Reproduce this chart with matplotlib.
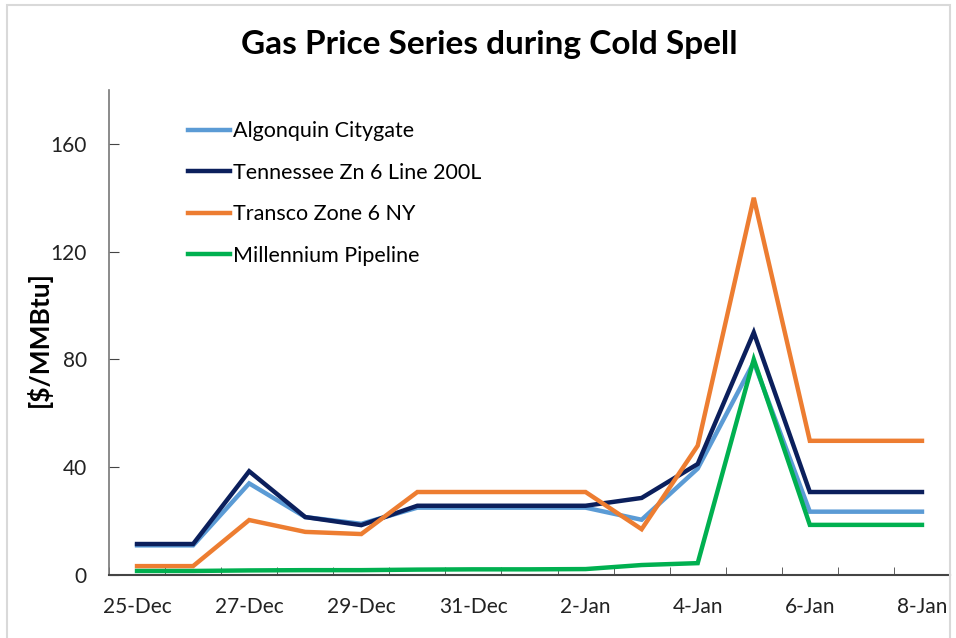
import matplotlib
matplotlib.use('Agg')
import matplotlib.pyplot as plt
from matplotlib.patches import Rectangle

plt.rcParams['font.family'] = ['Lato', 'DejaVu Sans']

# daily categories 25-Dec .. 8-Jan
days = ['25-Dec', '26-Dec', '27-Dec', '28-Dec', '29-Dec', '30-Dec', '31-Dec', '1-Jan',
        '2-Jan', '3-Jan', '4-Jan', '5-Jan', '6-Jan', '7-Jan', '8-Jan']

algonquin = [11, 11, 34, 21.5, 19, 25, 25, 25, 25, 20.5, 39.5, 79, 23.5, 23.5, 23.5]
tennessee = [11.5, 11.5, 38.5, 21.5, 18.5, 25.7, 25.7, 25.7, 25.7, 28.6, 41.2, 90, 30.8, 30.8, 30.8]
transco = [3.3, 3.3, 20.4, 16, 15.2, 30.8, 30.8, 30.8, 30.8, 17, 48, 140, 49.8, 49.8, 49.8]
millennium = [1.5, 1.5, 1.7, 1.8, 1.8, 2.0, 2.1, 2.1, 2.2, 3.7, 4.4, 80, 18.6, 18.6, 18.6]

names = ['Algonquin Citygate', 'Tennessee Zn 6 Line 200L', 'Transco Zone 6 NY', 'Millennium Pipeline']
colors = ['#5B9BD5', '#0B1F5C', '#ED7D31', '#00B050']
series = [algonquin, tennessee, transco, millennium]

fig = plt.figure(figsize=(9.56, 6.38), dpi=100)
ax = fig.add_axes([109 / 956, 63 / 638, 841 / 956, 485 / 638])

x = list(range(len(days)))
for vals, name, col in zip(series, names, colors):
    ax.plot(x, vals, color=col, lw=3.2, label=name, solid_joinstyle='miter')

ax.set_xlim(-0.5, len(days) - 0.5)
ax.set_ylim(0, 180)
ax.set_yticks([0, 40, 80, 120, 160])
ax.set_xticks(x[::2])
ax.set_xticklabels(days[::2])
ax.set_xticks([i - 0.5 for i in range(len(days) + 1)], minor=True)
ax.tick_params(axis='x', which='major', length=0, pad=16, labelsize=15, labelcolor='#222222')
ax.tick_params(axis='x', which='minor', direction='in', length=6, color='#444444')
ax.tick_params(axis='y', direction='in', length=7, pad=16, labelsize=15, labelcolor='#222222',
               color='#444444')

for s in ['top', 'right']:
    ax.spines[s].set_visible(False)
ax.spines['left'].set_color('#777777')
ax.spines['bottom'].set_color('#444444')
ax.spines['left'].set_linewidth(1.2)
ax.spines['bottom'].set_linewidth(1.5)

ax.set_ylabel('[$/MMBtu]', fontsize=19, fontweight='bold')
ax.yaxis.set_label_coords(-0.068, 0.487)
fig.text(0.512, 0.93, 'Gas Price Series during Cold Spell', ha='center', va='center',
         fontsize=24, fontweight='bold')

ax.legend(loc='upper left', bbox_to_anchor=(0.094, 0.936), frameon=False, fontsize=15.5,
          handlelength=1.95, handletextpad=0.15, labelspacing=1.0, borderpad=0,
          borderaxespad=0)

fig.add_artist(Rectangle((7 / 956, -0.01), 943 / 956, 1 - 5 / 638 + 0.01, transform=fig.transFigure,
                         fill=False, ec='#D9D9D9', lw=1.5))

fig.savefig('out.png', dpi=100)
